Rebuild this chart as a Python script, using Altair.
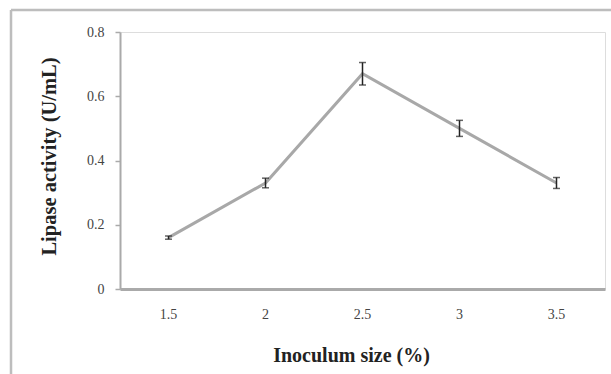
import altair as alt
import pandas as pd

sizes = ["1.5", "2", "2.5", "3", "3.5"]
activity = [0.16, 0.33, 0.67, 0.50, 0.33]
errors = [0.005, 0.015, 0.035, 0.025, 0.017]

df = pd.DataFrame({
    "size": sizes,
    "activity": activity,
    "lo": [a - e for a, e in zip(activity, errors)],
    "hi": [a + e for a, e in zip(activity, errors)],
})

FONT = "Liberation Serif"

x = alt.X(
    "size:N", sort=sizes,
    scale=alt.Scale(paddingInner=0, paddingOuter=0),
    axis=alt.Axis(
        title="Inoculum size (%)", labelAngle=0, ticks=False,
        labelPadding=18, labelBaseline="top", labelFontSize=14, labelColor="#444",
        labelFont=FONT, titleFont=FONT, titleFontSize=20, titleFontWeight="bold",
        titleColor="#222", titleX=231, titleY=66, titleBaseline="middle",
        domainColor="#aaa", domainWidth=3, grid=False,
    ),
)
y = alt.Y(
    "activity:Q",
    scale=alt.Scale(domain=[0, 0.8], nice=False),
    axis=alt.Axis(
        title="Lipase activity (U/mL)", values=[0, 0.2, 0.4, 0.6, 0.8], format="~g",
        tickSize=5, tickColor="#aaa", tickWidth=1.5, labelPadding=11,
        labelFontSize=14, labelColor="#444", labelFont=FONT,
        titleFont=FONT, titleFontSize=20.5, titleFontWeight="bold", titleColor="#222",
        titleAngle=270, titleX=-71, titleY=124, titleAlign="center",
        titleBaseline="middle", domainColor="#aaa", domainWidth=2, grid=False,
    ),
)

base = alt.Chart(df)
line = base.mark_line(color="#a8a8a8", strokeWidth=3).encode(x=x, y=y)
rule = base.mark_rule(color="#222", strokeWidth=1.5).encode(x=alt.X("size:N", sort=sizes), y="lo:Q", y2="hi:Q")
cap_lo = base.mark_tick(color="#222", size=7, thickness=1.5).encode(x=alt.X("size:N", sort=sizes), y="lo:Q")
cap_hi = base.mark_tick(color="#222", size=7, thickness=1.5).encode(x=alt.X("size:N", sort=sizes), y="hi:Q")

dummy = pd.DataFrame({"k": [0]})
border_top = alt.Chart(dummy).mark_rule(color="#bdbdbd", strokeWidth=2.5).encode(
    x=alt.value(-109), x2=alt.value(495), y=alt.value(-22))
border_left = alt.Chart(dummy).mark_rule(color="#bdbdbd", strokeWidth=2.5).encode(
    x=alt.value(-109), y=alt.value(-22), y2=alt.value(350))

chart = alt.layer(line, rule, cap_lo, cap_hi, border_top, border_left).properties(
    width=485, height=257,
    autosize=alt.AutoSizeParams(type="none"),
    padding={"left": 120, "top": 32, "right": 6, "bottom": 85},
).configure_view(stroke=None).configure(background="white")

chart.save("out.html", embed_options={"renderer": "svg", "actions": False})
